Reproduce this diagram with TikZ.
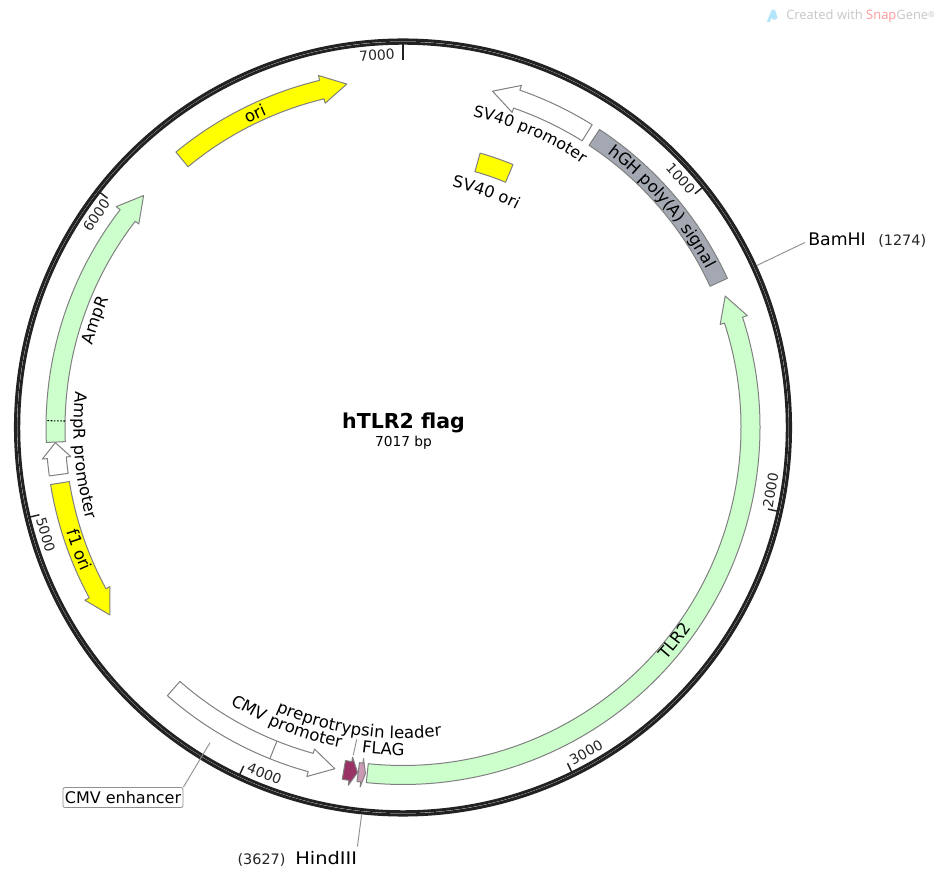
\documentclass[tikz,border=0pt]{standalone}
\usepackage{fontspec}
\setmainfont{DejaVu Sans}
\newfontfamily\wmfont{Open Sans}
\usetikzlibrary{decorations.text}
\definecolor{ringc}{HTML}{222222}
\definecolor{featline}{HTML}{808080}
\definecolor{greenf}{HTML}{CCFFCC}
\definecolor{yellowf}{HTML}{FFFF00}
\definecolor{greyf}{HTML}{A3A8B2}
\definecolor{magf}{HTML}{993366}
\definecolor{pinkf}{HTML}{CC99B2}
\definecolor{leadc}{HTML}{909090}
\tikzset{
  featshape/.style={draw=featline,line width=0.75pt,line join=round},
  ringline/.style={draw=ringc},
  tickmark/.style={draw=ringc,line width=1.1pt},
  leaderline/.style={draw=leadc,line width=0.7pt},
  ticklab/.style={font=\fontsize{10.4pt}{10.4pt}\selectfont,inner sep=0pt,text=black!85},
  sitelab/.style={font=\fontsize{13pt}{13pt}\selectfont,inner sep=0pt,anchor=base west},
  poslab/.style={font=\fontsize{10.8pt}{11pt}\selectfont,inner sep=0pt,anchor=base west,text=black!85},
}
% tail angle, wing angle, tip angle (clockwise from the top), fill
\newcommand\arrowfeat[4]{%
  \draw[featshape,fill=#4] ({90-(#1)}:338)
    arc[start angle={90-(#1)},end angle={90-(#2)},radius=338]
    -- ({90-(#2)}:333.5) -- ({90-(#3)}:348) -- ({90-(#2)}:362) -- ({90-(#2)}:357)
    arc[start angle={90-(#2)},end angle={90-(#1)},radius=357] -- cycle;}
% start, end, inner r, outer r, fill
\newcommand\bandfeat[5]{%
  \draw[featshape,fill=#5] ({90-(#1)}:#3)
    arc[start angle={90-(#1)},end angle={90-(#2)},radius=#3]
    -- ({90-(#2)}:#4)
    arc[start angle={90-(#2)},end angle={90-(#1)},radius=#4] -- cycle;}
% size, radius, start, end, text
\newcommand\curvedlabel[5]{%
  \path[decorate,decoration={text along path,text align=center,
     text={|\fontsize{#1}{#1}\selectfont|#5}}]
     ({90-(#3)}:#2) arc[start angle={90-(#3)},end angle={90-(#4)},radius=#2];}
% size, radius, middle angle, text
\newcommand\cwlabel[4]{\curvedlabel{#1}{#2}{#3-40}{#3+40}{#4}}
\newcommand\ccwlabel[4]{\curvedlabel{#1}{#2}{#3+40}{#3-40}{#4}}
% name, tick angle, label angle, rotation, text
\newcommand\plasmidtick[5]{%
  \draw[tickmark] ({90-(#2)}:374) -- ({90-(#2)}:383.5);
  \node[ticklab,rotate=#4] (#1) at ({90-(#3)}:373) {#5};}
\begin{document}
\begin{tikzpicture}[x=0.75pt,y=0.75pt]
\useasboundingbox (0,0) rectangle (945,878);
\fill[white] (0,0) rectangle (945,878);

% watermark
\fill[cyan!30!white] (766.7,856) -- (771.7,868) -- (775,868) -- (777.5,860) -- (774,858) -- (771,860) -- (770,856) -- cycle;
\node[inner sep=0pt,anchor=base west,text=black!22] (watermark) at (786,858)
  {\wmfont\fontsize{9.7pt}{10pt}\selectfont Created with \textcolor{red!40!white}{Snap}Gene\raisebox{2pt}{\fontsize{6pt}{6pt}\selectfont®}};

\begin{scope}[shift={(403,450.5)}]
  % backbone
  \draw[ringline,line width=2.3pt] (0,0) circle[radius=387.5];
  \draw[ringline,line width=2.15pt] (0,0) circle[radius=384.2];

  % features
  \arrowfeat{185.9}{72}{67.8}{greenf}
  \arrowfeat{267.6}{307.6}{311.8}{greenf}
  \draw[line width=0.8pt,dash pattern=on 1.2pt off 1.2pt] ({90-271.1}:338) -- ({90-271.1}:357);
  \arrowfeat{262.2}{265}{267.5}{white}
  \arrowfeat{260.8}{241.5}{237.4}{yellowf}
  \arrowfeat{320.5}{346.5}{350.7}{yellowf}
  \arrowfeat{32}{19.1}{14.9}{white}
  \bandfeat{33.4}{65.3}{338}{357}{greyf}
  \bandfeat{15.7}{22.7}{265.8}{285}{yellowf}
  \arrowfeat{221.3}{195.4}{191.3}{white}
  \draw[featshape] ({90-201.9}:338) -- ({90-201.9}:357);
  \arrowfeat{189.8}{188.7}{187.5}{magf}
  \arrowfeat{187.4}{186.8}{186.2}{pinkf}

  % ticks
  \plasmidtick{t1}{51.3}{48.1}{-48.1}{1000}
  \plasmidtick{t2}{102.6}{99.7}{80.3}{2000}
  \plasmidtick{t3}{153.9}{150.6}{29.4}{3000}
  \plasmidtick{t4}{205.2}{201.8}{-21.8}{4000}
  \plasmidtick{t5}{256.5}{253.3}{-73.3}{5000}
  \plasmidtick{t6}{307.8}{304.7}{55.3}{6000}
  \draw[ringline,line width=2.2pt] (0,367.5) -- (0,383.5);
  \node[ticklab,rotate=4] (t7) at ({90-356}:373.4) {7000};

  % feature labels
  \cwlabel{12.4pt}{341}{334.7}{ori}
  \cwlabel{12.3pt}{342}{49.6}{hGH poly(A) signal}
  \cwlabel{11.9pt}{319}{23.4}{SV40 promoter}
  \cwlabel{12.2pt}{245.5}{19.5}{SV40 ori}
  \cwlabel{12.4pt}{321}{289.2}{AmpR}
  \ccwlabel{12.2pt}{329.5}{265}{AmpR promoter}
  \ccwlabel{12.4pt}{352.5}{249.3}{f1 ori}
  \ccwlabel{12.4pt}{351.5}{128.1}{TLR2}
  \ccwlabel{12.4pt}{326}{201.5}{CMV promoter}
  \ccwlabel{12.4pt}{311}{188.5}{preprotrypsin leader}
  \ccwlabel{12.4pt}{328}{183.5}{FLAG}

  % leader ends
  \coordinate (bamring) at ({90-65.4}:389.5);
  \coordinate (hindring) at ({90-186.1}:389.5);
\end{scope}

% centre title
\node[inner sep=0pt,anchor=base,font=\bfseries\fontsize{15.4pt}{16pt}\selectfont] (title) at (403.5,449.7) {hTLR2 flag};
\node[inner sep=0pt,anchor=base,font=\fontsize{10.3pt}{11pt}\selectfont] (bp) at (403.5,431) {7017 bp};

% restriction sites
\node[sitelab] (bamhi) at (808,632.3) {BamHI};
\node[poslab] (bam-pos) at (878,632.3) {(1274)};
\draw[leaderline] ([xshift=-2.2pt,yshift=-2.2pt]bamhi.west) -- (bamring);
\node[sitelab,xscale=1.12] (hind) at (295,14) {HindIII};
\node[poslab] (hind-pos) at (237.3,14) {(3627)};
\draw[leaderline] ([yshift=3pt]hind.north east) -- (hindring);

% CMV enhancer box
\node[draw=leadc,line width=0.6pt,rounded corners=1.5pt,minimum width=90pt,minimum height=15pt,inner sep=0pt,
      font=\fontsize{12pt}{13pt}\selectfont] (cmvenh) at (123,80.5) {CMV enhancer};
\coordinate (cmvend) at (210,135.3);
\draw[leaderline] (cmvenh.north east) -- (cmvend);

% leaders of the small features
\coordinate (leaderA) at (356.7,138.7);
\coordinate (leaderB) at (353.3,123);
\draw[leaderline] (leaderA) -- (leaderB);
\coordinate (flagA) at (363.8,120);
\coordinate (flagB) at (363,114);
\draw[leaderline] (flagA) -- (flagB);
\end{tikzpicture}
\end{document}
